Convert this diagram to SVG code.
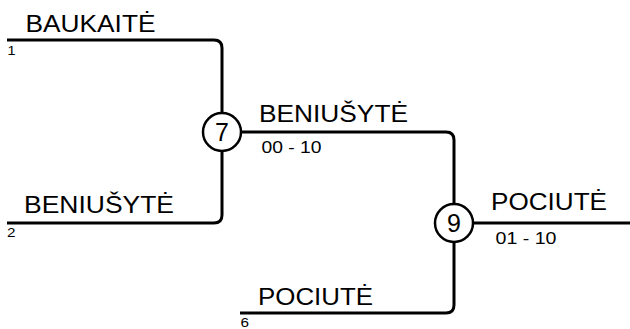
<svg xmlns="http://www.w3.org/2000/svg" width="630" height="329" viewBox="0 0 630 329">
<style>
.ln{fill:none;stroke:#000;stroke-width:3;stroke-linecap:butt}
.nd{fill:#fff;stroke:#000;stroke-width:2.5}
.nm{font-family:"Liberation Sans",Arial,sans-serif;font-size:24px;fill:#000}
.sc{font-family:"Liberation Sans",Arial,sans-serif;font-size:17px;fill:#000}
.sd{font-family:"Liberation Sans",Arial,sans-serif;font-size:13px;fill:#000}
.nn{font-family:"Liberation Sans",Arial,sans-serif;font-size:25px;fill:#000;text-anchor:middle}
</style>
<rect width="630" height="329" fill="#fff"/>
<g id="connectors">
<path class="ln" d="M7,40 H214 Q222,40 222,48 V113"/>
<path class="ln" d="M7,223 H214 Q222,223 222,215 V151"/>
<path class="ln" d="M241,132 H446 Q454,132 454,140 V204"/>
<path class="ln" d="M240,313 H446 Q454,313 454,305 V242"/>
<path class="ln" d="M473,223 H630"/>
</g>
<g id="entry1">
<text class="nm" x="25.5" y="31.5" textLength="130" lengthAdjust="spacingAndGlyphs">BAUKAITĖ</text>
<text class="sd" x="7.5" y="55" textLength="8" lengthAdjust="spacingAndGlyphs">1</text>
</g>
<g id="entry2">
<text class="nm" x="24" y="212.5" textLength="150" lengthAdjust="spacingAndGlyphs">BENIUŠYTĖ</text>
<text class="sd" x="7" y="237" textLength="8.5" lengthAdjust="spacingAndGlyphs">2</text>
</g>
<g id="entry6">
<text class="nm" x="258" y="304.5" textLength="115" lengthAdjust="spacingAndGlyphs">POCIUTĖ</text>
<text class="sd" x="240.5" y="327" textLength="8.5" lengthAdjust="spacingAndGlyphs">6</text>
</g>
<g id="match7">
<circle class="nd" cx="222" cy="132" r="19"/>
<text class="nn" x="222" y="141">7</text>
<text class="nm" x="259" y="122" textLength="149" lengthAdjust="spacingAndGlyphs">BENIUŠYTĖ</text>
<text class="sc" x="261.5" y="153" textLength="60" lengthAdjust="spacingAndGlyphs">00 - 10</text>
</g>
<g id="match9">
<circle class="nd" cx="454" cy="223" r="19"/>
<text class="nn" x="454" y="232">9</text>
<text class="nm" x="491" y="209.5" textLength="116" lengthAdjust="spacingAndGlyphs">POCIUTĖ</text>
<text class="sc" x="495.5" y="244" textLength="61" lengthAdjust="spacingAndGlyphs">01 - 10</text>
</g>
</svg>
